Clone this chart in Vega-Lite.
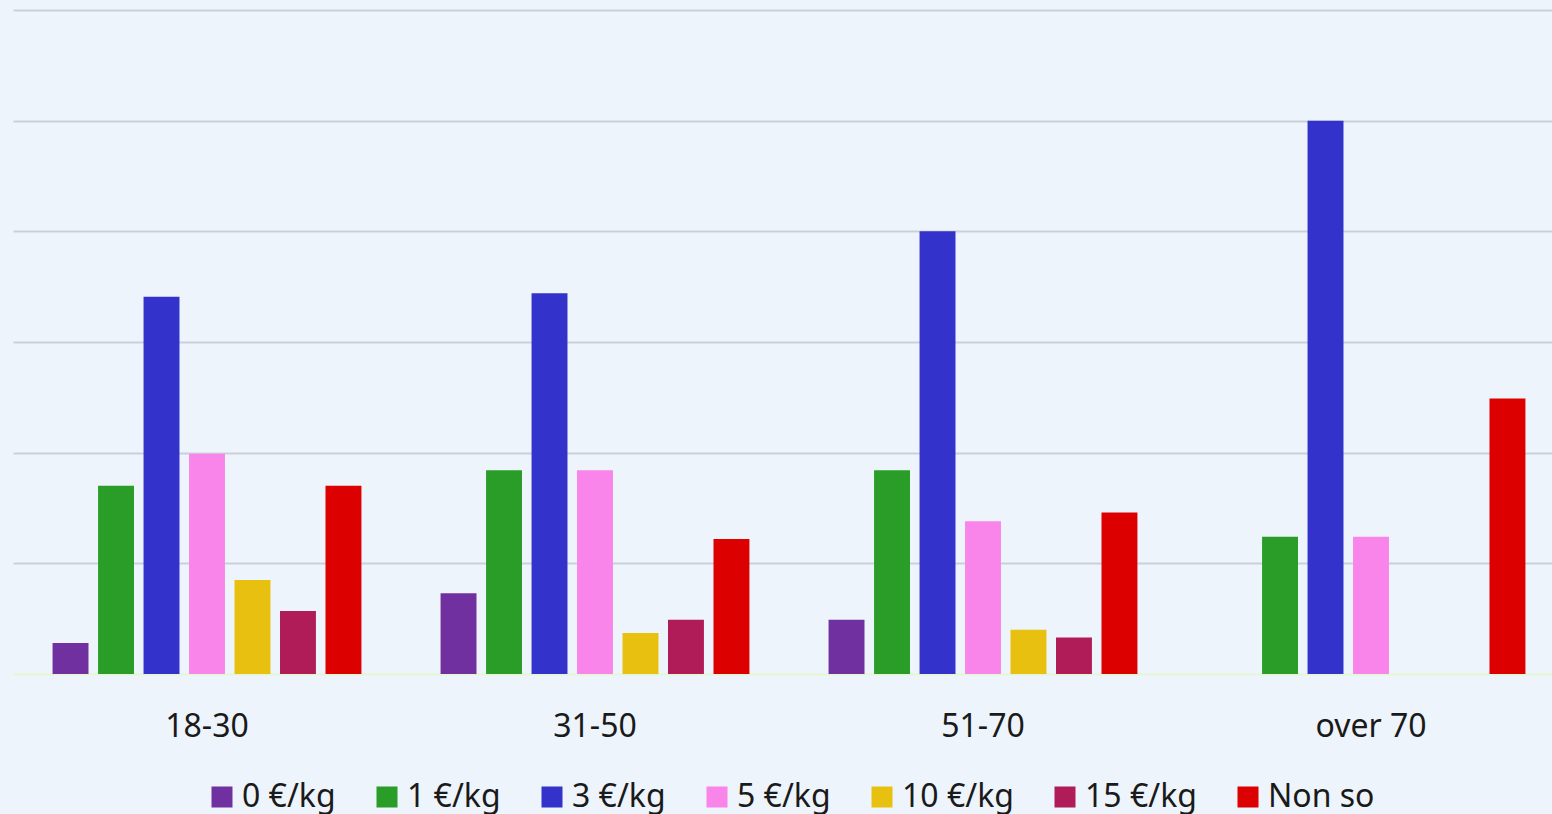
{
  "$schema": "https://vega.github.io/schema/vega-lite/v6.json",
  "width": 1539,
  "height": 664,
  "autosize": "none",
  "padding": {"left": 13, "top": 10, "right": 0, "bottom": 140},
  "background": "#EEF4FC",
  "config": {
    "view": {"stroke": null},
    "font": "Noto Sans"
  },
  "data": {
    "values": [
      {"eta": "18-30", "prezzo": "0 €/kg", "pct": 2.8},
      {"eta": "18-30", "prezzo": "1 €/kg", "pct": 17.0},
      {"eta": "18-30", "prezzo": "3 €/kg", "pct": 34.1},
      {"eta": "18-30", "prezzo": "5 €/kg", "pct": 19.9},
      {"eta": "18-30", "prezzo": "10 €/kg", "pct": 8.5},
      {"eta": "18-30", "prezzo": "15 €/kg", "pct": 5.7},
      {"eta": "18-30", "prezzo": "Non so", "pct": 17.0},
      {"eta": "31-50", "prezzo": "0 €/kg", "pct": 7.3},
      {"eta": "31-50", "prezzo": "1 €/kg", "pct": 18.4},
      {"eta": "31-50", "prezzo": "3 €/kg", "pct": 34.4},
      {"eta": "31-50", "prezzo": "5 €/kg", "pct": 18.4},
      {"eta": "31-50", "prezzo": "10 €/kg", "pct": 3.7},
      {"eta": "31-50", "prezzo": "15 €/kg", "pct": 4.9},
      {"eta": "31-50", "prezzo": "Non so", "pct": 12.2},
      {"eta": "51-70", "prezzo": "0 €/kg", "pct": 4.9},
      {"eta": "51-70", "prezzo": "1 €/kg", "pct": 18.4},
      {"eta": "51-70", "prezzo": "3 €/kg", "pct": 40.0},
      {"eta": "51-70", "prezzo": "5 €/kg", "pct": 13.8},
      {"eta": "51-70", "prezzo": "10 €/kg", "pct": 4.0},
      {"eta": "51-70", "prezzo": "15 €/kg", "pct": 3.3},
      {"eta": "51-70", "prezzo": "Non so", "pct": 14.6},
      {"eta": "over 70", "prezzo": "0 €/kg", "pct": 0},
      {"eta": "over 70", "prezzo": "1 €/kg", "pct": 12.4},
      {"eta": "over 70", "prezzo": "3 €/kg", "pct": 50.0},
      {"eta": "over 70", "prezzo": "5 €/kg", "pct": 12.4},
      {"eta": "over 70", "prezzo": "10 €/kg", "pct": 0},
      {"eta": "over 70", "prezzo": "15 €/kg", "pct": 0},
      {"eta": "over 70", "prezzo": "Non so", "pct": 24.9}
    ]
  },
  "mark": {"type": "bar"},
  "encoding": {
    "x": {
      "field": "eta",
      "type": "nominal",
      "sort": ["18-30", "31-50", "51-70", "over 70"],
      "scale": {"paddingInner": 0, "paddingOuter": 0, "range": [0, 1552]},
      "axis": {
        "title": null,
        "labelAngle": 0,
        "labelFontSize": 32,
        "labelColor": "#1A1A1A",
        "labelPadding": 37,
        "ticks": false,
        "domain": true,
        "domainColor": "#E4F6D2",
        "domainWidth": 2,
        "grid": false
      }
    },
    "xOffset": {
      "field": "prezzo",
      "type": "nominal",
      "sort": ["0 €/kg", "1 €/kg", "3 €/kg", "5 €/kg", "10 €/kg", "15 €/kg", "Non so"],
      "scale": {"paddingInner": 0.21, "paddingOuter": 0.87}
    },
    "y": {
      "field": "pct",
      "type": "quantitative",
      "scale": {"domain": [0, 60], "nice": false},
      "axis": {
        "title": null,
        "labels": false,
        "ticks": false,
        "domain": false,
        "grid": true,
        "values": [10, 20, 30, 40, 50, 60],
        "gridColor": "#CBCFDB",
        "gridWidth": 2
      }
    },
    "color": {
      "field": "prezzo",
      "type": "nominal",
      "sort": ["0 €/kg", "1 €/kg", "3 €/kg", "5 €/kg", "10 €/kg", "15 €/kg", "Non so"],
      "scale": {
        "domain": ["0 €/kg", "1 €/kg", "3 €/kg", "5 €/kg", "10 €/kg", "15 €/kg", "Non so"],
        "range": ["#7030A0", "#2A9D28", "#3333CC", "#FA85EA", "#E8C010", "#B01C58", "#DD0000"]
      },
      "legend": {
        "title": null,
        "orient": "none",
        "legendX": 193,
        "legendY": 771,
        "direction": "horizontal",
        "columns": 7,
        "symbolType": "square",
        "symbolSize": 441,
        "symbolStrokeWidth": 0,
        "symbolOpacity": 1,
        "labelFontSize": 32,
        "labelColor": "#1A1A1A",
        "labelOffset": 4,
        "columnPadding": 35,
        "labelLimit": 400
      }
    }
  }
}
